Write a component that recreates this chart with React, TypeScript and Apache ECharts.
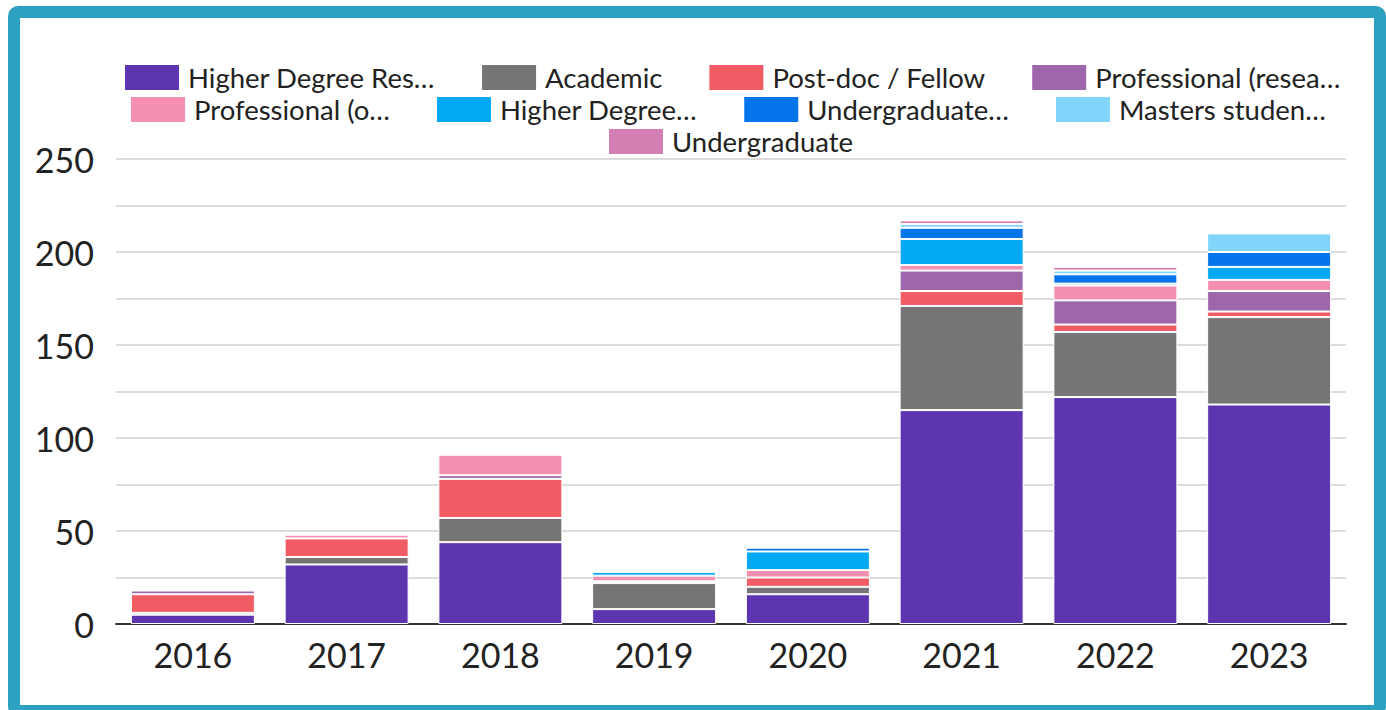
import React, { useEffect, useRef } from "react";
import * as echarts from "echarts";

const categories = ["2016", "2017", "2018", "2019", "2020", "2021", "2022", "2023"];

const seriesNames = [
  "Higher Degree Res…",
  "Academic",
  "Post-doc / Fellow",
  "Professional (resea…",
  "Professional (o…",
  "Higher Degree…",
  "Undergraduate…",
  "Masters studen…",
  "Undergraduate",
];

const seriesColors = [
  "#5e35b1",
  "#757575",
  "#f15b64",
  "#9e67ab",
  "#f48fb1",
  "#03a9f4",
  "#0374ea",
  "#81d4fa",
  "#d47fb4",
];

const hdrResearch = [5, 32, 44, 8, 16, 115, 122, 118];
const academic = [1, 4, 13, 14, 4, 56, 35, 47];
const postdoc = [10, 10, 21, 1, 5, 8, 4, 3];
const profResearch = [2, 0, 2, 0, 0, 11, 13, 11];
const profOther = [0, 2, 11, 3, 4, 3, 8, 6];
const hdrCoursework = [0, 0, 0, 2, 10, 14, 1, 7];
const ugResearch = [0, 0, 0, 0, 2, 6, 5, 8];
const masters = [0, 0, 0, 0, 0, 2, 2, 10];
const undergrad = [0, 0, 0, 0, 0, 2, 2, 0];

const seriesValues = [
  hdrResearch,
  academic,
  postdoc,
  profResearch,
  profOther,
  hdrCoursework,
  ugResearch,
  masters,
  undergrad,
];

const legendRows = [
  [0, 1, 2, 3],
  [4, 5, 6, 7],
  [8],
];

export default function App() {
  const ref = useRef<HTMLDivElement>(null);

  useEffect(() => {
    if (!ref.current) return;
    const chart = echarts.init(ref.current, null, { renderer: "svg" });
    const font = "Lato, 'Noto Sans', sans-serif";
    const legendTops = [45, 77, 109];
    const legendLefts = [103, 109, 587];
    chart.setOption({
      animation: false,
      textStyle: { fontFamily: font },
      legend: legendRows.map((row, i) => ({
        data: row.map((k) => seriesNames[k]),
        top: legendTops[i],
        left: legendLefts[i],
        padding: 0,
        itemWidth: 56,
        itemHeight: 27,
        itemGap: 45,
        icon: "rect",
        selectedMode: false,
        textStyle: {
          fontFamily: font,
          fontSize: 27.5,
          color: "#222",
          padding: [0, 0, 0, 3],
        },
      })),
      grid: { left: 96, right: 28, top: 141, bottom: 81, containLabel: false },
      xAxis: {
        type: "category",
        data: categories,
        axisLine: { lineStyle: { color: "#333", width: 2 } },
        axisTick: { show: false },
        axisLabel: { fontFamily: font, fontSize: 34, color: "#222", margin: 13 },
      },
      yAxis: {
        type: "value",
        min: 0,
        max: 250,
        interval: 25,
        axisLine: { show: false },
        axisTick: { show: false },
        splitLine: { lineStyle: { color: "#dcdcdc", width: 2 } },
        axisLabel: {
          fontFamily: font,
          fontSize: 34,
          color: "#222",
          margin: 22,
          formatter: (v: number) => (v % 50 === 0 ? String(v) : ""),
        },
      },
      series: seriesNames.map((name, i) => ({
        name,
        type: "bar",
        stack: "total",
        barWidth: 124,
        itemStyle: { color: seriesColors[i], borderColor: "#fff", borderWidth: 1 },
        data: seriesValues[i].map((v) => (v === 0 ? "-" : v)),
      })),
    });
    return () => chart.dispose();
  }, []);

  return (
    <div
      style={{
        position: "fixed",
        left: 8,
        top: 6,
        width: 1378,
        height: 711,
        boxSizing: "border-box",
        border: "12px solid #2ca2c0",
        borderRadius: 10,
        background: "#fff",
      }}
    >
      <div ref={ref} style={{ width: 1354, height: 687 }} />
    </div>
  );
}
